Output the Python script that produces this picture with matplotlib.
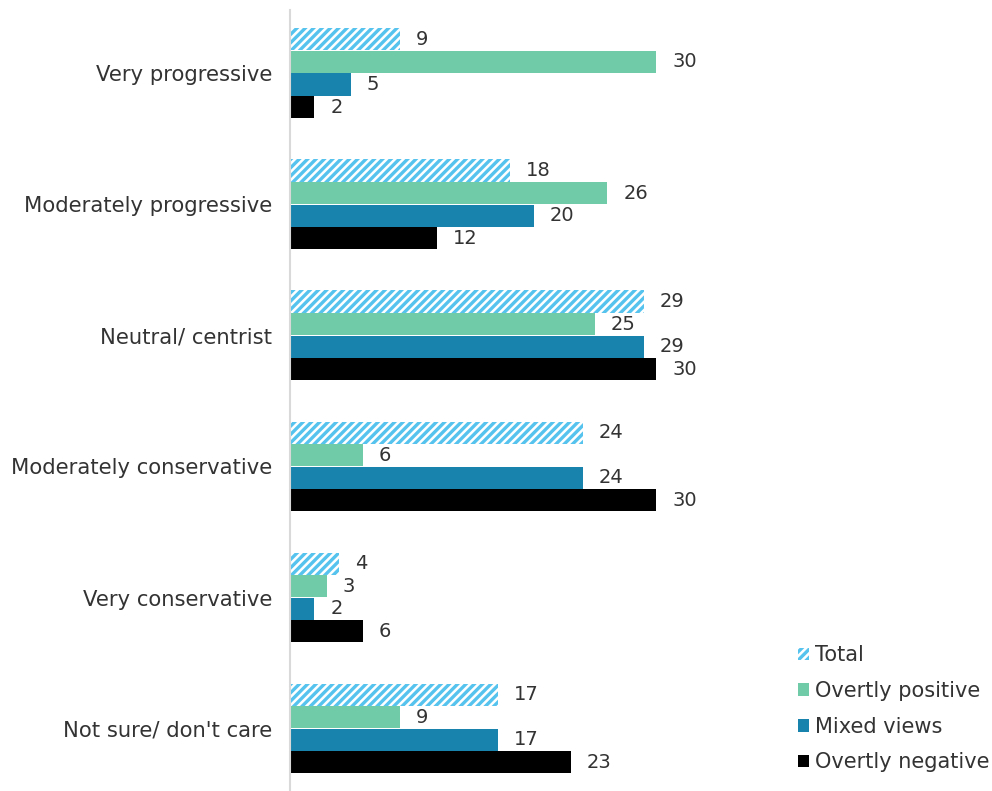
import matplotlib
matplotlib.use("Agg")
import matplotlib.pyplot as plt
import numpy as np

categories = ["Very progressive", "Moderately progressive", "Neutral/ centrist",
              "Moderately conservative", "Very conservative", "Not sure/ don't care"]
series = ["Total", "Overtly positive", "Mixed views", "Overtly negative"]
total = [9, 18, 29, 24, 4, 17]
positive = [30, 26, 25, 6, 3, 9]
mixed = [5, 20, 29, 24, 2, 17]
negative = [2, 12, 30, 30, 6, 23]

plt.rcParams['font.family'] = ['DejaVu Sans']
plt.rcParams['hatch.linewidth'] = 2.4

fig = plt.figure(figsize=(9.92, 7.91), dpi=100)
ax = fig.add_axes([290 / 992, 0.001, 1 - 290 / 992, 0.986])

y = np.arange(len(categories))
h = 0.172
text_col = "#333333"

styles = [
    dict(color="white", edgecolor="#55C3EE", hatch="////", linewidth=0),
    dict(color="#70CBA8"),
    dict(color="#1884AE"),
    dict(color="#000000"),
]

for i, (name, vals) in enumerate(zip(series, [total, positive, mixed, negative])):
    pos = y + (i - 1.5) * h
    ax.barh(pos, vals, height=h * 0.98, label=name, **styles[i])
    for p, v in zip(pos, vals):
        ax.text(v + 1.3, p, str(v), va="center", ha="left", fontsize=14, color=text_col)

ax.set_xlim(0, 57.5)
ax.set_ylim(5.47, -0.48)
ax.set_yticks(y)
ax.set_yticklabels(categories, fontsize=15.2, color=text_col)
ax.tick_params(axis="y", length=0, pad=13)
ax.set_xticks([])
for s in ["top", "right", "bottom"]:
    ax.spines[s].set_visible(False)
ax.spines["left"].set_color("#D9D9D9")
ax.spines["left"].set_linewidth(1.5)

fig.legend(loc="lower right", bbox_to_anchor=(1.016, 0.0), frameon=False, fontsize=15,
           handlelength=0.55, handleheight=0.55, handletextpad=0.25, labelspacing=0.75,
           labelcolor=text_col)

fig.savefig("out.png", dpi=100)
